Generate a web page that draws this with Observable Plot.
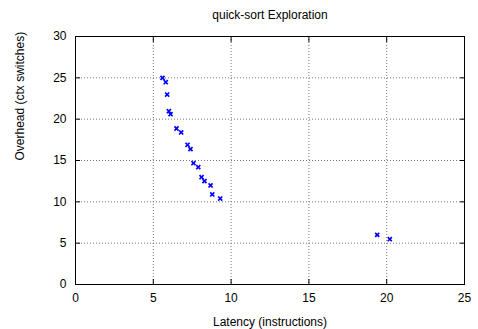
<!DOCTYPE html>
<html>
<head>
<meta charset="utf-8">
<script src="https://cdn.jsdelivr.net/npm/d3@7"></script>
<script src="https://cdn.jsdelivr.net/npm/@observablehq/plot@0.6"></script>
<style>
  html, body { margin: 0; padding: 0; background: white; }
</style>
</head>
<body>
<div id="chart"></div>
<script>
const title = "quick-sort Exploration";
const xLabel = "Latency (instructions)";
const yLabel = "Overhead (ctx switches)";
const xTicks = [0, 5, 10, 15, 20, 25];
const yTicks = [0, 5, 10, 15, 20, 25, 30];
const latency = [5.59, 5.80, 5.89, 6.00, 6.11, 6.49, 6.79, 7.20, 7.39, 7.58, 7.89, 8.10, 8.29, 8.68, 8.79, 9.30, 19.39, 20.20];
const overhead = [25.0, 24.47, 22.98, 20.96, 20.60, 18.87, 18.39, 16.90, 16.37, 14.67, 14.19, 12.98, 12.50, 11.98, 10.89, 10.40, 6.01, 5.48];

const data = latency.map((x, i) => ({x, y: overhead[i]}));

const chart = Plot.plot({
  width: 478,
  height: 329,
  marginLeft: 75,
  marginRight: 14,
  marginTop: 36,
  marginBottom: 45,
  style: {fontFamily: "'Liberation Sans', Arial, sans-serif", fontSize: "12px", color: "black", background: "white"},
  x: {domain: [0, 25]},
  y: {domain: [0, 30]},
  marks: [
    Plot.gridX(xTicks, {stroke: "#777", strokeOpacity: 1, strokeDasharray: "1,2"}),
    Plot.gridY(yTicks, {stroke: "#777", strokeOpacity: 1, strokeDasharray: "1,2"}),
    Plot.frame({stroke: "black", strokeWidth: 1}),
    Plot.axisX(xTicks, {anchor: "bottom", tickSize: -5, tickPadding: 14, label: null, fontSize: 12}),
    Plot.axisX(xTicks, {anchor: "top", tickSize: -5, tickFormat: () => "", label: null}),
    Plot.axisY(yTicks, {anchor: "left", tickSize: -5, tickPadding: 14, label: null, fontSize: 12}),
    Plot.axisY(yTicks, {anchor: "right", tickSize: -5, tickFormat: () => "", label: null}),
    Plot.dot(data, {x: "x", y: "y", symbol: "times", r: 2, stroke: "#0000ff", strokeWidth: 1.7}),
    Plot.text([title], {frameAnchor: "top", dy: -21, lineAnchor: "middle", fontSize: 12}),
    Plot.text([xLabel], {frameAnchor: "bottom", dy: 38, lineAnchor: "middle", fontSize: 12}),
    Plot.text([yLabel], {frameAnchor: "left", dx: -55, rotate: -90, lineAnchor: "middle", fontSize: 12})
  ]
});
document.getElementById("chart").appendChild(chart);
</script>
</body>
</html>
